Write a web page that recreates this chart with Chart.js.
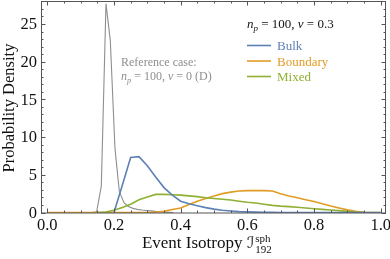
<!DOCTYPE html>
<html><head><meta charset="utf-8">
<script src="https://cdn.jsdelivr.net/npm/chart.js@4/dist/chart.umd.min.js"></script>
<style>html,body{margin:0;padding:0;background:#fff}#wrap{width:390px;height:259px}</style>
</head><body><div id="wrap"><canvas id="c" width="390" height="259"></canvas></div>
<script>
// ---- data ----
const binX = [0,0.025,0.05,0.075,0.1,0.125,0.15,0.175,0.2,0.225,0.25,0.275,0.3,0.325,0.35,0.375,0.4,0.425,0.45,0.475,0.5,0.525,0.55,0.575,0.6,0.625,0.65,0.675,0.7,0.725,0.75,0.775,0.8,0.825,0.85,0.875,0.9,0.925,0.95,0.975,1.0];
const bulk = [null,null,null,null,null,null,null,null,0,3.6,7.3,7.4,6.2,4.7,3.3,2.3,1.5,1.15,0.9,0.65,0.45,0.3,0.2,0.12,0.08,0.05,0.03,0.02,0.01,0,0,0,0,0,0,0,0,0,0,0,0];
const boundary = [0,0,0,0,0,0,0,0,0,0,0,0,0,0.05,0.15,0.4,0.6,1.05,1.5,1.85,2.2,2.5,2.7,2.85,2.9,2.9,2.9,2.85,2.5,2.2,1.95,1.7,1.45,1.15,0.85,0.6,0.35,0.15,0.02,0,0];
const mixed = [null,null,null,null,null,null,0,0.05,0.3,0.65,1.1,1.7,2.05,2.4,2.4,2.35,2.3,2.2,2.1,1.95,1.85,1.75,1.65,1.5,1.35,1.25,1.1,0.95,0.85,0.78,0.7,0.6,0.5,0.42,0.33,0.25,0.15,0.07,0.02,null,null];
const refX = [0.134,0.148,0.162,0.176,0.189,0.203,0.216,0.230,0.243,0.257,0.270,0.284,0.297,0.311,0.324,0.338,0.351,0.365,0.378];
const refY = [0,0.1,3.5,27.7,22.8,8.5,2.8,1.3,0.8,0.55,0.42,0.33,0.27,0.21,0.15,0.1,0.05,0.02,0];
const seriesNames = ['Bulk','Boundary','Mixed'];
const seriesColors = ['#5E81B5','#E19C24','#8FB032'];
const refColor = '#8f8f8f';
const xTicks = [0,0.2,0.4,0.6,0.8,1.0];
const xTickLabels = ['0.0','0.2','0.4','0.6','0.8','1.0'];
const xMinor = [0.05,0.1,0.15,0.25,0.3,0.35,0.45,0.5,0.55,0.65,0.7,0.75,0.85,0.9,0.95];
const yTicks = [0,5,10,15,20,25];
const yTickLabels = ['0','5','10','15','20','25'];
const yMinor = [1,2,3,4,6,7,8,9,11,12,13,14,16,17,18,19,21,22,23,24,26,27,28];

const SERIF = '"Liberation Serif","DejaVu Serif",serif';
const SCRIPT = '"DejaVu Serif","DejaVu Sans",serif';

function runs(ctx, parts, x, y, color, align) {
  let w = 0;
  parts.forEach(p => { ctx.font = p.f; w += ctx.measureText(p.t).width; });
  let cx = align === 'center' ? x - w / 2 : x;
  ctx.fillStyle = color; ctx.textBaseline = 'alphabetic'; ctx.textAlign = 'left';
  parts.forEach(p => {
    ctx.font = p.f;
    ctx.fillText(p.t, cx + (p.dx || 0), y + (p.dy || 0));
    if (!p.overlap) cx += ctx.measureText(p.t).width + (p.dx || 0);
  });
}

const framePlugin = {
  id: 'frame',
  afterDatasetsDraw(chart) {
    const ctx = chart.ctx, a = chart.chartArea;
    const xs = chart.scales.x, ys = chart.scales.y;
    ctx.save();
    ctx.strokeStyle = '#555'; ctx.lineWidth = 1;
    ctx.strokeRect(Math.round(a.left) + 0.5, Math.round(a.top) + 0.5, Math.round(a.right - a.left) - 1, Math.round(a.bottom - a.top) - 0.5);
    ctx.beginPath();
    const tickX = (v, len) => {
      const px = Math.round(xs.getPixelForValue(v)) + 0.5;
      ctx.moveTo(px, a.bottom); ctx.lineTo(px, a.bottom - len);
      ctx.moveTo(px, a.top); ctx.lineTo(px, a.top + len);
    };
    const tickY = (v, len) => {
      const py = Math.round(ys.getPixelForValue(v)) + 0.5;
      ctx.moveTo(a.left, py); ctx.lineTo(a.left + len, py);
      ctx.moveTo(a.right, py); ctx.lineTo(a.right - len, py);
    };
    xTicks.forEach(v => tickX(v, 4.5)); xMinor.forEach(v => tickX(v, 2.5));
    yTicks.forEach(v => tickY(v, 4.5)); yMinor.forEach(v => tickY(v, 2.5));
    ctx.stroke();

    // tick labels
    ctx.fillStyle = '#111';
    ctx.font = '16.5px ' + SERIF;
    ctx.textAlign = 'center'; ctx.textBaseline = 'alphabetic';
    xTicks.forEach((v, i) => ctx.fillText(xTickLabels[i], xs.getPixelForValue(v), 229.5));
    ctx.textAlign = 'right'; ctx.textBaseline = 'middle';
    yTicks.forEach((v, i) => ctx.fillText(yTickLabels[i], 37, ys.getPixelForValue(v) + 1));

    // axis titles
    runs(ctx, [
      {t: 'Event Isotropy ', f: '17px ' + SERIF},
      {t: '\u2110', f: 'italic 16px ' + SCRIPT},
      {t: 'sph', f: '11px ' + SERIF, dy: -6, overlap: true, dx: 1},
      {t: '192', f: '11px ' + SERIF, dy: 5, dx: 1}
    ], 214, 248, '#111', 'center');
    ctx.save();
    ctx.translate(14, 108); ctx.rotate(-Math.PI / 2);
    ctx.font = '16.5px ' + SERIF; ctx.textAlign = 'center'; ctx.textBaseline = 'alphabetic';
    ctx.fillStyle = '#111';
    ctx.fillText('Probability Density', 0, 0);
    ctx.restore();

    // header annotation
    runs(ctx, [
      {t: 'n', f: 'italic 13px ' + SERIF},
      {t: 'p', f: 'italic 9px ' + SERIF, dy: 3},
      {t: ' = 100, ', f: '13px ' + SERIF},
      {t: '\u03BD', f: 'italic 13px ' + SERIF},
      {t: ' = 0.3', f: '13px ' + SERIF}
    ], 247, 27.5, '#111', 'left');

    // legend
    chart.data.datasets.slice(0, 3).forEach((ds, i) => {
      const y = 45.5 + i * 15.5;
      ctx.strokeStyle = ds.borderColor; ctx.lineWidth = 1.6;
      ctx.beginPath(); ctx.moveTo(247, y); ctx.lineTo(271, y); ctx.stroke();
      ctx.fillStyle = ds.borderColor; ctx.font = '13px ' + SERIF;
      ctx.textAlign = 'left'; ctx.textBaseline = 'alphabetic';
      ctx.fillText(ds.label, 277, y + 4.5);
    });

    // reference note
    ctx.fillStyle = refColor;
    ctx.font = '12px ' + SERIF; ctx.textAlign = 'left'; ctx.textBaseline = 'alphabetic';
    ctx.fillText('Reference case:', 121, 65.5);
    runs(ctx, [
      {t: 'n', f: 'italic 12px ' + SERIF},
      {t: 'p', f: 'italic 8.5px ' + SERIF, dy: 3},
      {t: ' = 100, ', f: '12px ' + SERIF},
      {t: '\u03BD', f: 'italic 12px ' + SERIF},
      {t: ' = 0 (D)', f: '12px ' + SERIF}
    ], 121, 80, refColor, 'left');
    ctx.restore();
  }
};

const pts = (xs, ys) => xs.map((x, i) => ({x: x, y: ys[i]}));
const lineDs = (label, xs, ys, color, w, order) => ({
  label: label, data: pts(xs, ys), borderColor: color, backgroundColor: color,
  borderWidth: w, pointRadius: 0, tension: 0, fill: false, spanGaps: false, order: order
});

new Chart(document.getElementById('c'), {
  type: 'line',
  data: {
    datasets: [
      lineDs(seriesNames[0], binX, bulk, seriesColors[0], 1.6, 0),
      lineDs(seriesNames[1], binX, boundary, seriesColors[1], 1.6, 2),
      lineDs(seriesNames[2], binX, mixed, seriesColors[2], 1.6, 1),
      lineDs('Reference', refX, refY, refColor, 1.1, 3)
    ]
  },
  options: {
    responsive: false, animation: false, devicePixelRatio: 1,
    layout: {padding: {left: 0, right: 4, top: 1, bottom: 0}},
    plugins: {legend: {display: false}, tooltip: {enabled: false}},
    scales: {
      x: {type: 'linear', min: -0.0189, max: 1.0159,
          grid: {display: false, drawTicks: false}, border: {display: false},
          ticks: {display: false}, afterFit: s => { s.height = 46; }},
      y: {type: 'linear', min: -0.066, max: 28.05,
          grid: {display: false, drawTicks: false}, border: {display: false},
          ticks: {display: false}, afterFit: s => { s.width = 41; }}
    }
  },
  plugins: [framePlugin]
});
</script></body></html>
